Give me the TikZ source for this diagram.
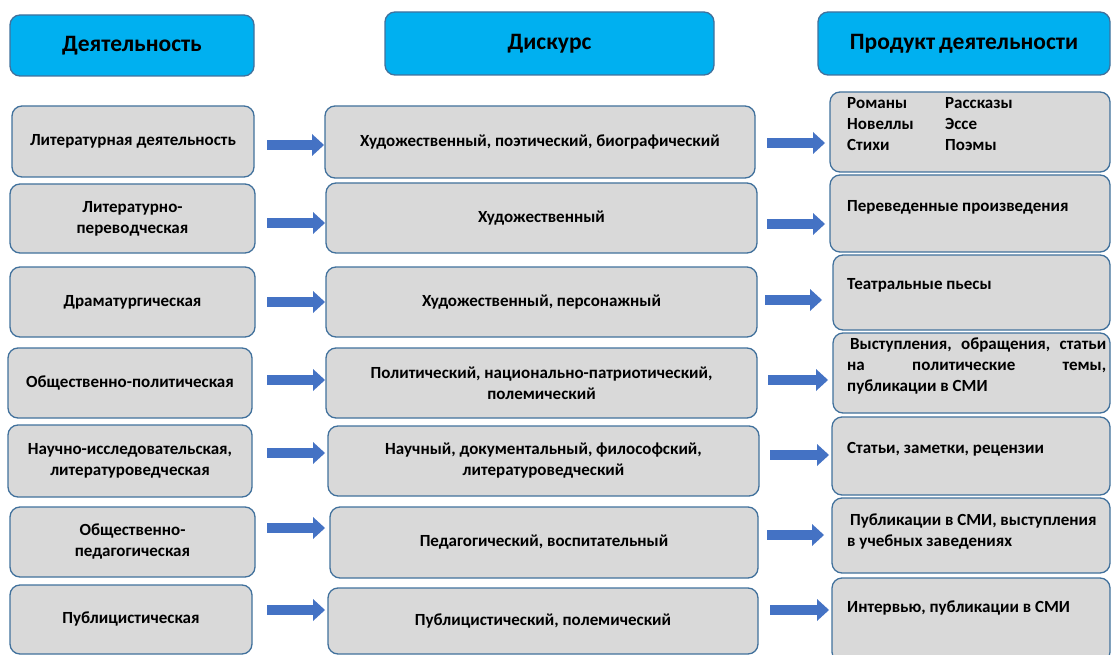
\documentclass[tikz,border=0pt]{standalone}
\usepackage{fontspec}
\setmainfont{Carlito}
\usetikzlibrary{arrows.meta}
\definecolor{boxgray}{HTML}{D9D9D9}
\definecolor{edgeblue}{HTML}{41719C}
\definecolor{headblue}{HTML}{00B0F0}
\definecolor{arrowblue}{HTML}{4472C4}
\newcommand\placebox[7]{%
  \pgfmathsetmacro\bw{#5-#3}\pgfmathsetmacro\bh{#6-#4}%
  \pgfmathsetmacro\bcx{(#3+#5)/2}\pgfmathsetmacro\bcy{-(#4+#6)/2}%
  \node[#1, minimum width=\bw pt, minimum height=\bh pt] (#2) at (\bcx,\bcy) {#7};}
\newcommand\linkarrow[5]{%
  \pgfmathsetmacro\shrt{#3+#5}%
  \draw[barrow, shorten >=\shrt pt] ([xshift=#3,yshift=#4]#1.east) -- ([xshift=#3,yshift=#4]#1.east -| #2.west);}
\begin{document}
\begin{tikzpicture}[x=1pt,y=1pt,
  base/.style={draw=edgeblue, line width=1.3pt, rounded corners=10pt, inner sep=2pt, outer sep=0pt},
  headbox/.style={base, fill=headblue, font=\bfseries\fontsize{23.5}{27}\selectfont},
  rowbox/.style={base, fill=boxgray, align=center, font=\bfseries\fontsize{17}{21}\selectfont},
  prodbox/.style={base, fill=boxgray},
  prodtext/.style={anchor=north west, inner sep=0pt, align=left, font=\bfseries\fontsize{17}{21}\selectfont},
  barrow/.style={color=arrowblue, line width=10.5pt, -{Triangle[width=22pt,length=12pt,line width=0pt]}}]
\useasboundingbox (0,0) rectangle (1113,-655);
\clip (0,0) rectangle (1113,-655);
% headers
\placebox{headbox}{h1}{10}{15}{254}{76}{\raisebox{-1.5pt}{Деятельность}}
\placebox{headbox}{h2}{385}{12}{714}{75}{\raisebox{-1.5pt}{Дискурс}}
\placebox{headbox}{h3}{818}{12}{1110}{75}{\raisebox{-1.5pt}{Продукт\hspace{4pt}деятельности}}
% left column
\placebox{rowbox}{l1}{12}{106}{254}{177}{Литературная деятельность}
\placebox{rowbox}{l2}{10}{184}{255}{253}{Литературно-\\переводческая}
\placebox{rowbox}{l3}{10}{267}{255}{337}{Драматургическая}
\placebox{rowbox}{l4}{8}{348}{252}{418}{Общественно-политическая}
\placebox{rowbox}{l5}{8}{425}{252}{497}{Научно-исследовательская,\\литературоведческая}
\placebox{rowbox}{l6}{10}{507}{255}{577}{Общественно-\\педагогическая}
\placebox{rowbox}{l7}{10}{585}{252}{654}{Публицистическая}
% middle column
\placebox{rowbox}{m1}{325}{106}{755}{178}{Художественный, поэтический, биографический}
\placebox{rowbox}{m2}{326}{183}{757}{253}{Художественный}
\placebox{rowbox}{m3}{326}{267}{757}{337}{Художественный, персонажный}
\placebox{rowbox}{m4}{326}{348}{757}{418}{Политический, национально-патриотический,\\полемический}
\placebox{rowbox}{m5}{328}{426}{759}{496}{Научный,  документальный,  философский,\\литературоведческий}
\placebox{rowbox}{m6}{330}{507}{758}{578}{Педагогический,  воспитательный}
\placebox{rowbox}{m7}{328}{588}{758}{654}{Публицистический, полемический}
% right column
\placebox{prodbox}{r1}{830}{92}{1110}{172}{}
\placebox{prodbox}{r2}{830}{175}{1110}{252}{}
\placebox{prodbox}{r3}{833}{255}{1110}{330}{}
\placebox{prodbox}{r4}{833}{333}{1110}{413}{}
\placebox{prodbox}{r5}{832}{417}{1110}{495}{}
\placebox{prodbox}{r6}{832}{498}{1110}{573}{}
\placebox{prodbox}{r7}{832}{578}{1110}{662}{}
\node[prodtext] (r1t) at (847,-93.8) {\begin{tabular}{@{}p{98pt}@{}l@{}}Романы & Рассказы\\ Новеллы & Эссе\\ Стихи & Поэмы\end{tabular}};
\node[prodtext] (r2t) at (847,-196.8) {\strut Переведенные произведения};
\node[prodtext] (r3t) at (847,-274.8) {\strut Театральные  пьесы};
\node[prodtext] (r4t) at (847,-334.8) {\strut\makebox[259pt][s]{\hspace{3pt}Выступления,\hfill обращения,\hfill статьи}\\ \makebox[259pt][s]{на\hfill политические\hfill темы,}\\ публикации  в СМИ};
\node[prodtext] (r5t) at (847,-438.8) {\strut Статьи, заметки,  рецензии};
\node[prodtext] (r6t) at (847,-510.8) {\strut\hspace{3pt}Публикации в СМИ, выступления\\ в учебных заведениях};
\node[prodtext] (r7t) at (847,-597.8) {\strut Интервью, публикации  в СМИ};
% arrows left -> middle
\linkarrow{l1}{m1}{13pt}{-3.5pt}{1pt}
\linkarrow{l2}{m2}{12pt}{-4.5pt}{1pt}
\linkarrow{l3}{m3}{12pt}{0pt}{1pt}
\linkarrow{l4}{m4}{15pt}{3pt}{1pt}
\linkarrow{l5}{m5}{15pt}{8pt}{3pt}
\linkarrow{l6}{m6}{12pt}{14pt}{5pt}
\linkarrow{l7}{m7}{15pt}{9.5pt}{3pt}
% arrows middle -> right
\linkarrow{m1}{r1}{12pt}{-1pt}{5pt}
\linkarrow{m2}{r2}{10pt}{-6pt}{5pt}
\linkarrow{m3}{r3}{8pt}{2pt}{11pt}
\linkarrow{m4}{r4}{11pt}{3pt}{5pt}
\linkarrow{m5}{r5}{11pt}{6pt}{3pt}
\linkarrow{m6}{r6}{9pt}{7.5pt}{8pt}
\linkarrow{m7}{r7}{12pt}{11pt}{3pt}
\end{tikzpicture}
\end{document}
